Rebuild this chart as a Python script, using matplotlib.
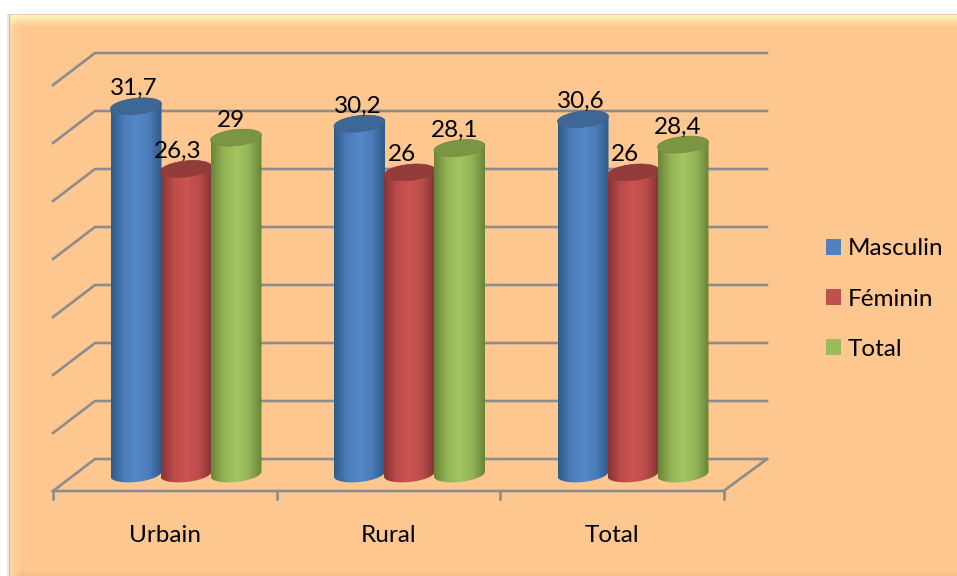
import numpy as np
import matplotlib
matplotlib.use("Agg")
import matplotlib.pyplot as plt
from matplotlib.colors import LinearSegmentedColormap
from matplotlib.patches import Patch, PathPatch
from matplotlib.path import Path

categories = ["Urbain", "Rural", "Total"]
series_names = ["Masculin", "Féminin", "Total"]
masculin = [31.7, 30.2, 30.6]
feminin = [26.3, 26, 26]
total = [29, 28.1, 28.4]
grid_values = [0, 5, 10, 15, 20, 25, 30, 35]

W, H = 957, 576
PX_X = 223.5    # pixels per category
PX_Y = 11.6     # pixels per value unit
X0, Y0 = 186, 474  # pixel of first category centre / bar base


def dx(px):
    return px / PX_X


def dy(px):
    return px / PX_Y


plt.rcParams["font.family"] = ["Lato", "DejaVu Sans"]
fig = plt.figure(figsize=(W / 100, H / 100), dpi=100, facecolor="white")

# panel with bevelled edges
bg = fig.add_axes([0, 0, 1, 1])
bg.set_axis_off()
yy, xx = np.mgrid[0:H, 0:W]
img = np.ones((H, W, 3))
base = np.array([254, 199, 143]) / 255
top_hi = np.array([255, 243, 190]) / 255
left_hi = np.array([255, 214, 165]) / 255
bot_sh = np.array([246, 190, 135]) / 255
panel = (xx >= 9) & (yy >= 14)
t = np.clip((yy - 15) / 11, 0, 1)[..., None]
l = np.clip((xx - 10) / 11, 0, 1)[..., None]
b = np.clip((574 - yy) / 3, 0, 1)[..., None]
shade = base * b + bot_sh * (1 - b)
shade = shade * l + left_hi * (1 - l)
shade = shade * t + top_hi * (1 - t)
img[panel] = shade[panel]
img[(yy == 14) & (xx >= 9)] = np.array([240, 205, 165]) / 255
img[(xx == 9) & (yy >= 14)] = np.array([228, 180, 130]) / 255
img[(xx >= 7) & (xx < 9) & (yy >= 14)] = np.array([232, 232, 236]) / 255
bg.imshow(img, extent=(0, W, H, 0), aspect="auto")

# main axes fill the figure, data coords: x in categories, y in value units
ax = fig.add_axes([0, 0, 1, 1])
ax.patch.set_alpha(0)
ax.set_axis_off()
ax.set_xlim(dx(0 - X0), dx(W - X0))
ax.set_ylim(dy(Y0 - H), dy(Y0))

GRID = "#8c8c8c"
back_off = dy(15)
front_off = dy(-17)
left_f, left_b = dx(53 - X0), dx(95 - X0)
right_f, right_b = dx(723.5 - X0), dx(767 - X0)

for v in grid_values:
    ax.plot([left_f, left_b, right_b], [v + front_off, v + back_off, v + back_off],
            color=GRID, lw=1.9, solid_joinstyle="miter", zorder=1)
# floor and ticks
ax.plot([left_f, right_f, right_b], [front_off, front_off, back_off], color=GRID, lw=1.9, zorder=1)
for i in range(len(categories) + 1):
    ax.plot([left_f + i] * 2, [front_off, front_off - dy(8)], color=GRID, lw=1.9, zorder=1)


def cylinder(xc, val, colors, z):
    hw = dx(25.5)
    a, b_, tilt = hw, dy(8), dy(2.5)
    th = np.linspace(np.pi, 2 * np.pi, 40)
    bot = np.c_[xc + a * np.cos(th), b_ * np.sin(th) + tilt * np.cos(th)]
    top = np.c_[xc + a * np.cos(th[::-1]), val + b_ * np.sin(th[::-1]) + tilt * np.cos(th[::-1])]
    verts = np.r_[bot, top, bot[:1]]
    body = PathPatch(Path(verts), fc="none", ec="none", zorder=z)
    ax.add_patch(body)
    cmap = LinearSegmentedColormap.from_list("c", [colors[0], colors[1], colors[2], colors[1], colors[0]])
    grad = np.linspace(0, 1, 100)[None, :]
    im = ax.imshow(grad, cmap=cmap, extent=(xc - hw, xc + hw, -dy(10), val + dy(10)),
                   aspect="auto", zorder=z)
    im.set_clip_path(body)
    th2 = np.linspace(0, 2 * np.pi, 80)
    cap = np.c_[xc + a * np.cos(th2), val + b_ * np.sin(th2) + tilt * np.cos(th2)]
    ax.add_patch(PathPatch(Path(cap), fc=colors[3], ec=colors[0], lw=0.5, zorder=z + 0.1))


palette = [
    ("#2f5a8c", "#4b7cb8", "#5388cc", "#3d6795"),
    ("#843434", "#bb4c4a", "#cb5452", "#923d3c"),
    ("#6a8438", "#93b455", "#a3c55f", "#7a9645"),
]
legend_colors = ["#4f81bd", "#c0504d", "#9bbb59"]
offsets = [dx(-50), 0, dx(50)]
label_shift = [dx(-2), dx(-8), dx(-5)]

for s, vals in enumerate([masculin, feminin, total]):
    for i, v in enumerate(vals):
        xc = i + offsets[s]
        cylinder(xc, v, palette[s], 3 + s * 0.5)
        ax.text(xc + label_shift[s], v + dy(17.5), f"{v:g}".replace(".", ","),
                ha="center", va="center", fontsize=17.5, color="black", zorder=10)

for i, c in enumerate(categories):
    ax.text(i + dx(-21), dy(474 - 536), c, ha="center", va="center", fontsize=17.5, color="black")

handles = [Patch(fc=c, ec="none") for c in legend_colors]
ax.legend(handles, series_names, loc="center left", bbox_to_anchor=(826 / W, 1 - 299 / H),
          frameon=False, fontsize=17.5, handlelength=0.62, handleheight=0.62,
          handletextpad=0.26, labelspacing=1.2, borderpad=0, borderaxespad=0)

fig.savefig("out.png", dpi=100)
